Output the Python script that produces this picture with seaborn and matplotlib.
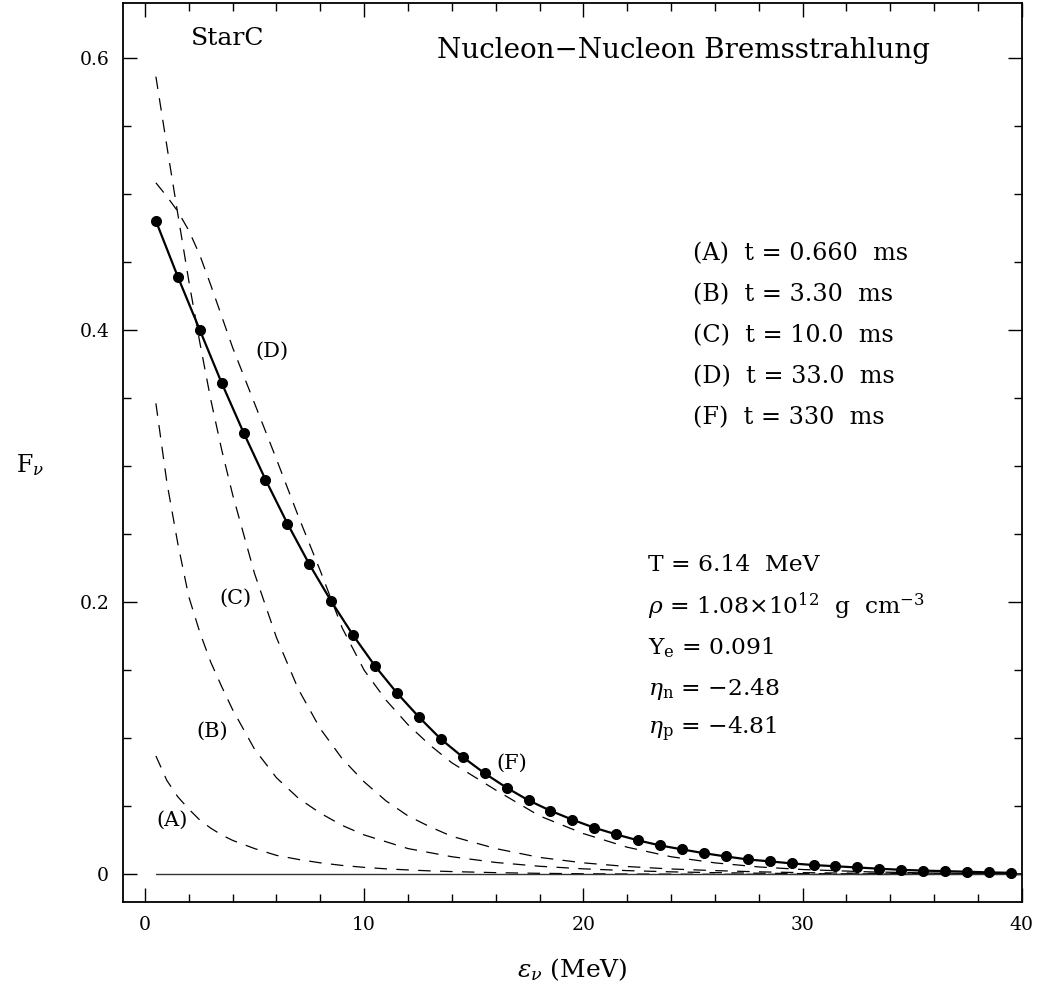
import numpy as np
import pandas as pd
import matplotlib
matplotlib.use("Agg")
import matplotlib.pyplot as plt
from matplotlib.ticker import MultipleLocator, FuncFormatter
import seaborn as sns

# Neutrino energy grid of the solid (F) spectrum, MeV
energy_f = np.arange(0.5, 40.0, 1.0)
spec_f = [0.480, 0.439, 0.400, 0.361, 0.3245, 0.290, 0.2577, 0.2278, 0.2006, 0.1756,
          0.153, 0.1332, 0.1156, 0.0994, 0.0862, 0.0742, 0.0637, 0.0544, 0.0468, 0.0402,
          0.0343, 0.0294, 0.0250, 0.0213, 0.0184, 0.0156, 0.0132, 0.0110, 0.0096, 0.0081,
          0.0069, 0.0060, 0.0051, 0.0042, 0.0034, 0.0028, 0.0024, 0.0020, 0.0015, 0.0012]

# Energy grid of the dashed (earlier-time) spectra, MeV
energy_t = [0.5, 1, 1.5, 2, 2.5, 3, 3.5, 4, 5, 6, 7, 8, 9, 10, 11, 12, 13, 14,
            16, 18, 20, 22, 24, 26, 28, 30, 33, 36, 40]
spec_a = [0.087, 0.069, 0.057, 0.048, 0.040, 0.034, 0.029, 0.025, 0.019, 0.014,
          0.011, 0.0085, 0.0066, 0.0052, 0.0041, 0.0033, 0.0026, 0.0021, 0.0013, 0.0008,
          0.0005, 0.0003, 0.0002, 0.0001, 0.0001, 0.0, 0.0, 0.0, 0.0]
spec_b = [0.346, 0.288, 0.243, 0.204, 0.178, 0.156, 0.138, 0.121, 0.092, 0.071,
          0.056, 0.045, 0.036, 0.029, 0.024, 0.019, 0.016, 0.013, 0.0088, 0.0060,
          0.0041, 0.0028, 0.0019, 0.0013, 0.0009, 0.0006, 0.0004, 0.0002, 0.0001]
spec_c = [0.586, 0.535, 0.485, 0.436, 0.391, 0.349, 0.312, 0.279, 0.221, 0.174,
          0.136, 0.107, 0.085, 0.068, 0.054, 0.043, 0.035, 0.028, 0.019, 0.0125,
          0.0085, 0.0058, 0.0040, 0.0028, 0.0019, 0.0013, 0.0008, 0.0005, 0.0002]
spec_d = [0.508, 0.498, 0.487, 0.473, 0.455, 0.433, 0.410, 0.387, 0.346, 0.305,
          0.263, 0.223, 0.181, 0.150, 0.128, 0.110, 0.095, 0.082, 0.062, 0.043,
          0.030, 0.020, 0.013, 0.0085, 0.0055, 0.0036, 0.0019, 0.0010, 0.0004]

legend_lines = ["(A)  t = 0.660  ms", "(B)  t = 3.30  ms", "(C)  t = 10.0  ms",
                "(D)  t = 33.0  ms", "(F)  t = 330  ms"]
param_lines = ["T = 6.14  MeV",
               r"$\rho$ = 1.08$\times$10$^{12}$  g  cm$^{-3}$",
               r"Y$_{\rm e}$ = 0.091",
               r"$\eta_{\rm n}$ = $-$2.48",
               r"$\eta_{\rm p}$ = $-$4.81"]
curve_tags = ["(A)", "(B)", "(C)", "(D)", "(F)"]

sns.set_theme(style="ticks")
plt.rcParams["font.family"] = ["DejaVu Serif"]
plt.rcParams["mathtext.fontset"] = "dejavuserif"
plt.rcParams["text.color"] = "black"
plt.rcParams["axes.labelcolor"] = "black"

fig = plt.figure(figsize=(10.39, 9.94), dpi=100)
ax = fig.add_axes([0.1184, 0.0929, 0.865, 0.904])

dashed = pd.DataFrame({
    "energy": energy_t * 4,
    "flux": spec_a + spec_b + spec_c + spec_d,
    "epoch": sum([[tag] * len(energy_t) for tag in curve_tags[:4]], []),
})
for tag, grp in dashed.groupby("epoch"):
    sns.lineplot(data=grp, x="energy", y="flux", ax=ax, color="black", lw=0.9,
                 linestyle=(0, (10, 7.5)), estimator=None, sort=True)

# zero reference line
ax.plot([0.5, 40], [0, 0], color="#333333", lw=1.0)

sns.lineplot(x=energy_f, y=spec_f, ax=ax, color="black", lw=1.6, marker="o",
             markersize=7.2, markeredgecolor="black", markerfacecolor="black",
             estimator=None)

ax.set_xlim(-1, 40)
ax.set_ylim(-0.02, 0.64)

for s in ax.spines.values():
    s.set_linewidth(1.3)
    s.set_color("black")

ax.xaxis.set_major_locator(MultipleLocator(10))
ax.xaxis.set_minor_locator(MultipleLocator(2))
ax.yaxis.set_major_locator(MultipleLocator(0.2))
ax.yaxis.set_minor_locator(MultipleLocator(0.05))
ax.xaxis.set_major_formatter(FuncFormatter(lambda v, p: f"{v:.0f}"))
ax.yaxis.set_major_formatter(FuncFormatter(lambda v, p: "0" if abs(v) < 1e-9 else f"{v:.1f}"))
ax.tick_params(which="both", direction="in", top=True, right=True, colors="black",
               labelsize=13.5)
ax.tick_params(which="major", length=10, width=1.0, pad=10)
ax.tick_params(which="minor", length=5.5, width=1.0)

ax.set_xlabel(r"$\varepsilon_\nu$ (MeV)", fontsize=18)
ax.xaxis.set_label_coords(0.4996, -0.076)
ax.xaxis.label.set_va("center")
ax.set_ylabel(r"F$_\nu$", fontsize=17, rotation=0, ha="center", va="center")
ax.yaxis.set_label_coords(-0.1035, 0.486)

ax.text(3.79, 0.614, "StarC", fontsize=18, ha="center", va="center")
ax.text(24.55, 0.605, "Nucleon\u2212Nucleon Bremsstrahlung", fontsize=20,
        ha="center", va="center")

for i, line in enumerate(legend_lines):
    ax.text(25.0, 0.456 - i * 0.0302, line, fontsize=17.2, ha="left", va="center")
for i, line in enumerate(param_lines):
    ax.text(22.95, 0.227 - i * 0.0302, line, fontsize=16.8, ha="left", va="center")

tag_pos = [(1.22, 0.0397), (3.09, 0.105), (4.14, 0.203), (5.78, 0.384), (16.74, 0.082)]
for tag, (tx, ty) in zip(curve_tags, tag_pos):
    ax.text(tx, ty, tag, fontsize=15, ha="center", va="center")

fig.savefig("out.png", dpi=100, facecolor="white")
